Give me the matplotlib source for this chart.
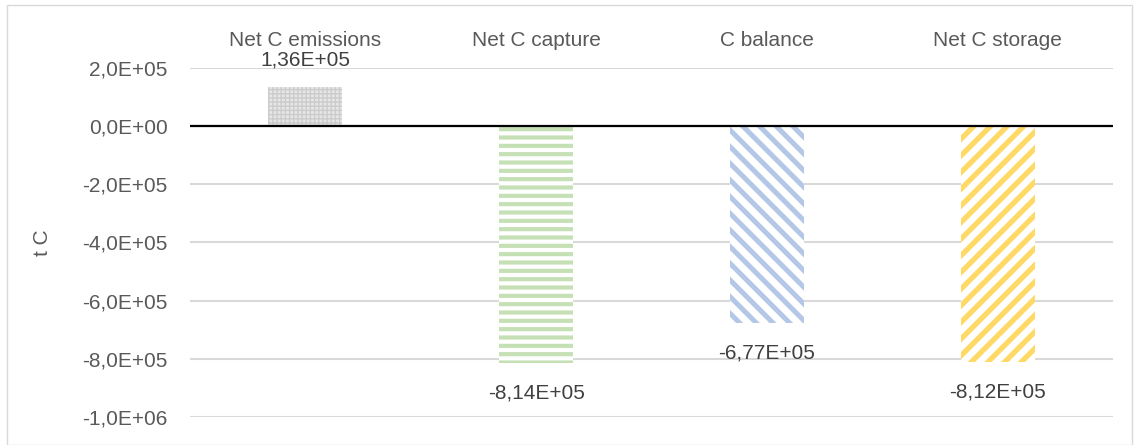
import matplotlib.pyplot as plt
from matplotlib.patches import Rectangle

categories = ['Net C emissions', 'Net C capture', 'C balance', 'Net C storage']
values = [1.36e5, -8.14e5, -6.77e5, -8.12e5]
labels = ['1,36E+05', '-8,14E+05', '-6,77E+05', '-8,12E+05']
yticks = [2e5, 0, -2e5, -4e5, -6e5, -8e5, -1e6]

# face, hatch colour, hatch, hatch linewidth
styles = [
    ('#e6e6e6', '#cccccc', '++++', 1.0),
    ('white', '#c5e0b4', '--', 3.0),
    ('white', '#b4c7e7', '\\\\', 3.6),
    ('white', '#ffd966', '//', 3.8),
]

plt.rcParams['font.family'] = ['Liberation Sans', 'DejaVu Sans']

fig = plt.figure(figsize=(11.34, 4.45), dpi=100)
ax = fig.add_axes([190 / 1134, 1 - 417 / 445, 923 / 1134, 349 / 445])

for i, (v, st) in enumerate(zip(values, styles)):
    face, hcol, hatch, hlw = st
    with plt.rc_context({'hatch.linewidth': hlw}):
        ax.bar(i, v, width=0.32, color=face, edgecolor=hcol,
               hatch=hatch, linewidth=0, zorder=2)

for i, (v, lab) in enumerate(zip(values, labels)):
    off = 27 if v > 0 else -30
    ax.annotate(lab, (i, v), xytext=(0, off), textcoords='offset pixels',
                ha='center', va='center', fontsize=15, color='#404040',
                annotation_clip=False)

ax.set_xlim(-0.5, 3.5)
ax.set_ylim(-1e6, 2e5)
ax.set_yticks(yticks)
ax.set_yticklabels([f'{t:.1E}'.replace('.', ',') for t in yticks])
ax.grid(axis='y', color='#d9d9d9', linewidth=1.5, zorder=0)
ax.axhline(0, color='black', linewidth=1.6, zorder=3)

ax.xaxis.tick_top()
ax.set_xticks(range(len(categories)))
ax.set_xticklabels(categories)
ax.tick_params(axis='x', length=0, pad=13, labelsize=15, labelcolor='#595959')
ax.tick_params(axis='y', length=0, pad=16, labelsize=15, labelcolor='#595959')
for s in ax.spines.values():
    s.set_visible(False)

fig.text(42 / 1134, 1 - 243 / 445, 't C', rotation=90, ha='center',
         va='center', fontsize=15, color='#595959')

fig.patches.append(Rectangle((7 / 1134, 0), 1125 / 1134, 1 - 5 / 445,
                             transform=fig.transFigure, fill=False,
                             edgecolor='#d9d9d9', linewidth=1))

fig.savefig('out.png', dpi=100)
